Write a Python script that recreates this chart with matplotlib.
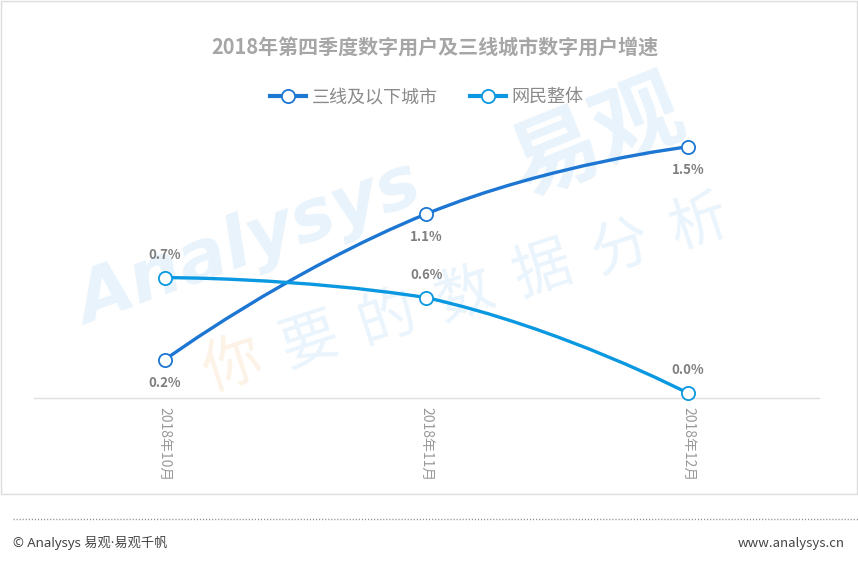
import matplotlib
matplotlib.use('Agg')
import matplotlib.pyplot as plt
import numpy as np
from matplotlib.path import Path
from matplotlib.patches import PathPatch, Rectangle
from matplotlib.lines import Line2D

plt.rcParams['font.family'] = ['Noto Sans CJK SC', 'DejaVu Sans']

title = '2018年第四季度数字用户及三线城市数字用户增速'
months = ['2018年10月', '2018年11月', '2018年12月']
series_names = ['三线及以下城市', '网民整体']
tier3 = [0.23, 1.10, 1.50]
overall = [0.72, 0.60, 0.03]

colors = ['#1c76d2', '#0a98e0']
label_offset = [-16.5, 16.5]   # below for tier3, above for overall


def smooth_path(ax, xs, ys, smooth=0.5):
    # echarts-like bezier smoothing with bounding-box constraint, in display space
    pts = ax.transData.transform(np.column_stack([xs, ys]))
    lo, hi = pts.min(axis=0), pts.max(axis=0)
    n = len(pts)
    cps = []
    for i in range(n):
        if i == 0 or i == n - 1:
            cps.append((pts[i], pts[i]))
            continue
        v = (pts[i + 1] - pts[i - 1]) * smooth
        d0 = np.hypot(*(pts[i] - pts[i - 1]))
        d1 = np.hypot(*(pts[i + 1] - pts[i]))
        c0 = np.clip(pts[i] - v * d0 / (d0 + d1), lo, hi)
        c1 = np.clip(pts[i] + v * d1 / (d0 + d1), lo, hi)
        cps.append((c0, c1))
    verts = [pts[0]]
    codes = [Path.MOVETO]
    for i in range(1, n):
        verts += [cps[i - 1][1], cps[i][0], pts[i]]
        codes += [Path.CURVE4] * 3
    verts = ax.transData.inverted().transform(np.array(verts))
    return Path(verts, codes)


W, H = 858, 569
fig = plt.figure(figsize=(W / 100, H / 100), dpi=100)
ax = fig.add_axes([34 / W, 1 - 398.3 / H, 785 / W, 268.3 / H])
ax.set_zorder(2)
ax.patch.set_visible(False)
x = np.arange(len(months))
ax.set_xlim(-0.5, len(months) - 0.5)
ax.set_ylim(0, 1.6)

# frame and footer
fig.patches.append(Rectangle((0.6 / W, 1 - 494 / H), 856 / W, 493.5 / H, transform=fig.transFigure,
                             fill=False, edgecolor='#dcdcdc', linewidth=1.0))
fig.lines.append(Line2D([13 / W, 1.0], [1 - 519 / H] * 2, transform=fig.transFigure,
                        color='#8a8a8a', linewidth=1.0, linestyle=(0, (0.8, 1.4))))
fig.text(13 / W, 1 - 543 / H, '© Analysys 易观·易观千帆', fontsize=9.5, color='#444444', va='center',
         family=['Noto Sans', 'Noto Sans CJK SC'])
fig.text(845 / W, 1 - 543 / H, 'www.analysys.cn', fontsize=9.5, color='#444444', va='center', ha='right')

# watermark
wm = '#e8f3fc'
fig.text(250 / W, 1 - 245 / H, 'Analysys', fontsize=52, fontweight='bold', style='italic',
         color=wm, rotation=20, ha='center', va='center', zorder=0,
         family=['DejaVu Sans'])
fig.text(598 / W, 1 - 140 / H, '易观', fontsize=64, fontweight='bold', color=wm,
         rotation=22, ha='center', va='center', zorder=0)
slogan = '你要的数据分析'
sx = np.linspace(232, 698, len(slogan))
sy = np.linspace(365, 224, len(slogan))
for i, ch in enumerate(slogan):
    fig.text(sx[i] / W, 1 - sy[i] / H, ch, fontsize=42, fontweight='light',
             color='#fdf2e6' if i == 0 else '#eaf4fc', rotation=18,
             ha='center', va='center', zorder=0)

handles = []
for k, (vals, col) in enumerate(zip([tier3, overall], colors)):
    path = smooth_path(ax, x, vals)
    ax.add_patch(PathPatch(path, facecolor='none', edgecolor=col, linewidth=2.4,
                           capstyle='round', zorder=3))
    ax.plot(x, vals, linestyle='none', marker='o', markersize=9.5, markerfacecolor='white',
            markeredgecolor=col, markeredgewidth=1.3, zorder=4, clip_on=False)
    for xi, v in zip(x, vals):
        ax.annotate(f'{v:.1f}%', (xi, v), xytext=(0, label_offset[k]), textcoords='offset points',
                    ha='center', va='center', fontsize=9.5, fontweight='bold', color='#7f7f7f',
                    zorder=5)
    handles.append(Line2D([], [], color=col, linewidth=3, marker='o', markersize=9.5,
                          markerfacecolor='white', markeredgecolor=col, markeredgewidth=1.3))

for s in ['top', 'right', 'left']:
    ax.spines[s].set_visible(False)
ax.spines['bottom'].set_color('#e0e0e0')
ax.spines['bottom'].set_linewidth(1.0)
ax.set_yticks([])
ax.set_xticks(x)
ax.set_xticklabels(months, rotation=-90, fontsize=10, color='#9a9a9a', va='top')
ax.tick_params(axis='x', length=0, pad=6)

fig.text(435 / W, 1 - 47 / H, title, fontsize=14.4, fontweight='bold', color='#a6a6a6',
         ha='center', va='center')
fig.legend(handles, series_names, loc='center', bbox_to_anchor=(427 / W, 1 - 97 / H), ncol=2,
           frameon=False, fontsize=13, labelcolor='#8a8a8a', handlelength=2.0,
           handletextpad=0.3, columnspacing=1.8)

fig.savefig('out.png', dpi=100)
